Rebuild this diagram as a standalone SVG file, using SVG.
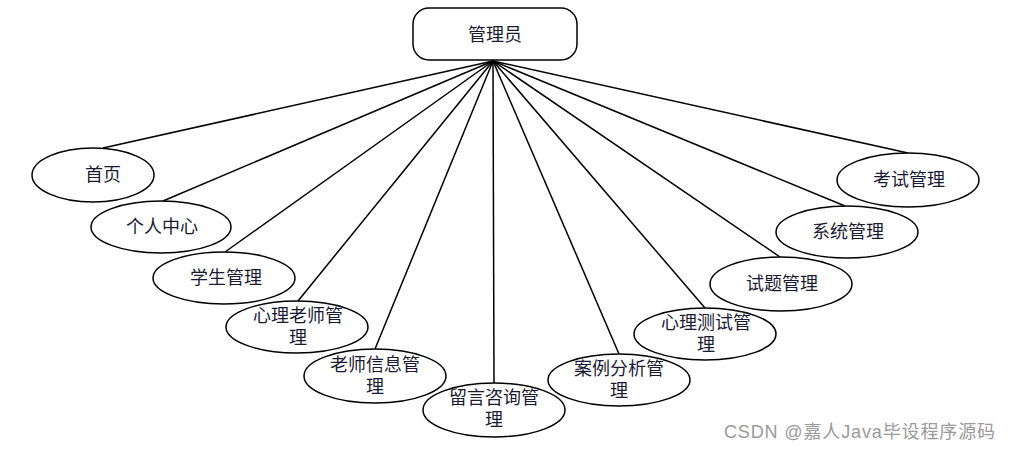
<svg xmlns="http://www.w3.org/2000/svg" width="1009" height="450" viewBox="0 0 1009 450">
<style>
.n{fill:#fff;stroke:#000;stroke-width:1.5}
.c{stroke:#000;stroke-width:1.5;fill:none}
.t{font-family:"Liberation Serif","Noto Sans CJK SC",serif;font-size:18px;fill:#1a1a33;text-anchor:middle;dominant-baseline:central}
.w{font-family:"Liberation Sans","Noto Sans CJK SC",sans-serif;font-size:18px;fill:#9a9a9a}
</style>
<rect width="1009" height="450" fill="#fff"/>
<g id="connectors">
<line class="c" x1="493" y1="61" x2="103" y2="148"/>
<line class="c" x1="493" y1="61" x2="163" y2="201"/>
<line class="c" x1="493" y1="61" x2="225" y2="252"/>
<line class="c" x1="493" y1="61" x2="298" y2="301"/>
<line class="c" x1="493" y1="61" x2="375" y2="349"/>
<line class="c" x1="493" y1="61" x2="494" y2="383"/>
<line class="c" x1="493" y1="61" x2="619" y2="354"/>
<line class="c" x1="493" y1="61" x2="705" y2="308"/>
<line class="c" x1="493" y1="61" x2="780" y2="257"/>
<line class="c" x1="493" y1="61" x2="845" y2="206"/>
<line class="c" x1="493" y1="61" x2="908" y2="153"/>
</g>
<g id="root"><rect class="n" x="413" y="8" width="164" height="52" rx="16"/><text class="t" x="495" y="35">管理员</text></g>
<g id="n1"><ellipse class="n" cx="93" cy="175" rx="61" ry="27"/><text class="t" x="103" y="175">首页</text></g>
<g id="n2"><ellipse class="n" cx="161" cy="227" rx="70" ry="26"/><text class="t" x="162" y="227">个人中心</text></g>
<g id="n3"><ellipse class="n" cx="224" cy="278" rx="71" ry="26"/><text class="t" x="226" y="278">学生管理</text></g>
<g id="n4"><ellipse class="n" cx="297" cy="327" rx="71" ry="26"/><text class="t" x="298" y="316">心理老师管</text><text class="t" x="298" y="338">理</text></g>
<g id="n5"><ellipse class="n" cx="375" cy="376" rx="71" ry="27"/><text class="t" x="375" y="365">老师信息管</text><text class="t" x="375" y="387">理</text></g>
<g id="n6"><ellipse class="n" cx="494" cy="410" rx="71" ry="27"/><text class="t" x="494" y="398">留言咨询管</text><text class="t" x="494" y="420">理</text></g>
<g id="n7"><ellipse class="n" cx="619" cy="380" rx="71" ry="26"/><text class="t" x="619" y="369">案例分析管</text><text class="t" x="619" y="391">理</text></g>
<g id="n8"><ellipse class="n" cx="705" cy="334" rx="71" ry="26"/><text class="t" x="706" y="323">心理测试管</text><text class="t" x="706" y="345">理</text></g>
<g id="n9"><ellipse class="n" cx="781" cy="284" rx="71" ry="27"/><text class="t" x="782" y="284">试题管理</text></g>
<g id="n10"><ellipse class="n" cx="847" cy="232" rx="71" ry="26"/><text class="t" x="848" y="232">系统管理</text></g>
<g id="n11"><ellipse class="n" cx="908" cy="180" rx="71" ry="27"/><text class="t" x="909" y="180">考试管理</text></g>
<text class="w" x="724" y="438" textLength="271" lengthAdjust="spacing">CSDN @嘉人Java毕设程序源码</text>
</svg>
